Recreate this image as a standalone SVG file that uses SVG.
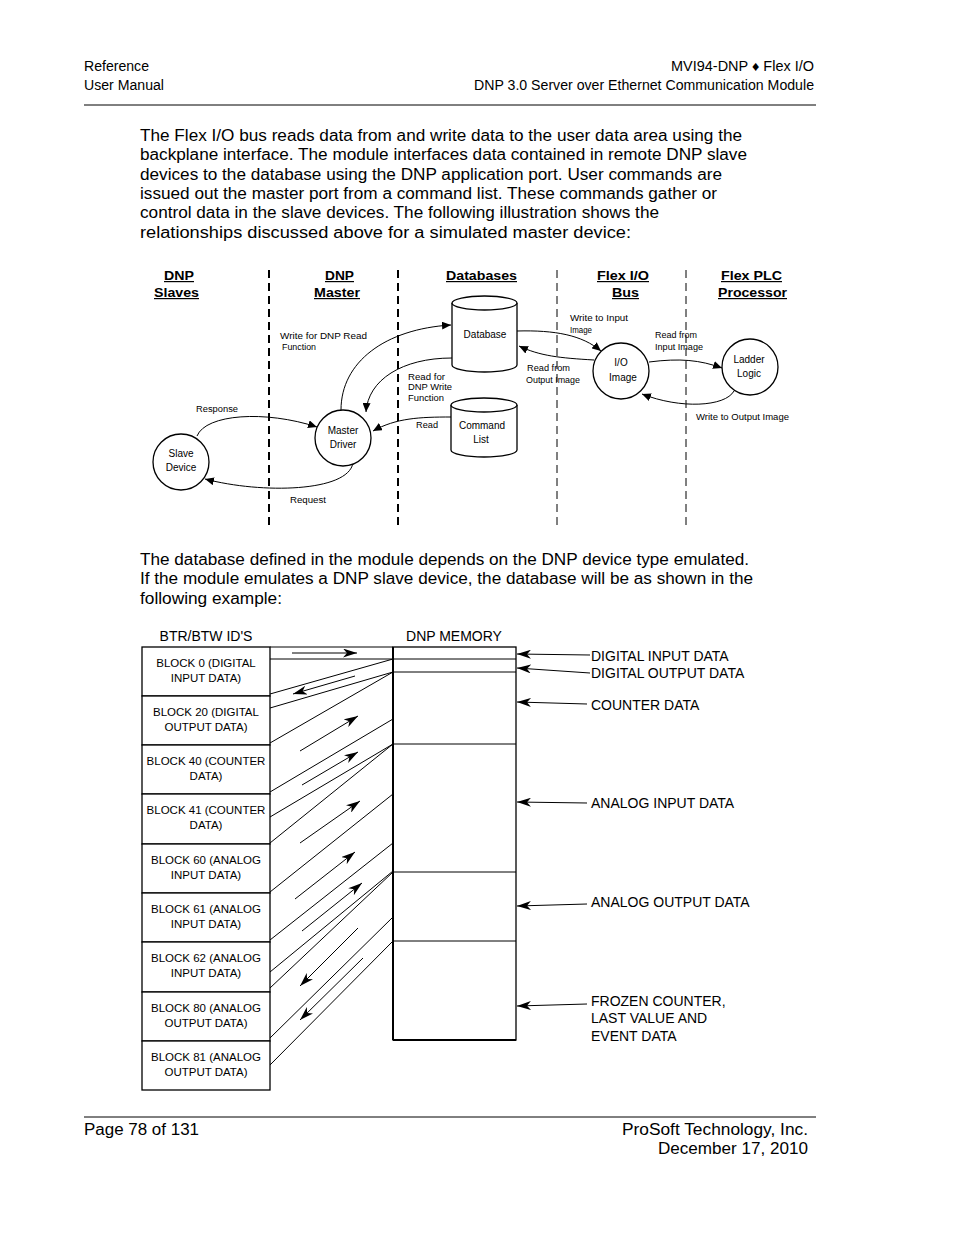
<svg xmlns="http://www.w3.org/2000/svg" width="954" height="1235" viewBox="0 0 954 1235">
<defs>
<style>
.hdr{font-family:"Liberation Sans Narrow","Liberation Sans",Arial,sans-serif;font-size:14px;fill:#000}
.body{font-family:"Liberation Sans",Arial,sans-serif;font-size:16px;fill:#000}
.ttl{font-family:"Liberation Sans",Arial,sans-serif;font-size:12px;font-weight:bold;text-decoration:underline;fill:#000}
.nd{font-family:"Liberation Sans",Arial,sans-serif;font-size:10px;fill:#000;text-anchor:middle}
.lbl{font-family:"Liberation Sans",Arial,sans-serif;font-size:8.5px;fill:#000}
.blk{font-family:"Liberation Sans",Arial,sans-serif;font-size:11.5px;fill:#000;text-anchor:middle}
.mem{font-family:"Liberation Sans",Arial,sans-serif;font-size:14px;fill:#000}
.ln{stroke:#000;stroke-width:1;fill:none}
.curve{stroke:#000;stroke-width:1;fill:none;marker-end:url(#tri)}
.arr{stroke:#000;stroke-width:1;fill:none;marker-end:url(#barb)}
.dash1{stroke:#000;stroke-width:2;stroke-dasharray:8 5}
.dash2{stroke:#000;stroke-width:1;stroke-dasharray:8 5}
.box{fill:#fff;stroke:#000;stroke-width:1.3}
</style>
<marker id="tri" markerUnits="userSpaceOnUse" markerWidth="9" markerHeight="8" refX="9" refY="4" orient="auto"><path d="M0,0 L9,4 L0,8 z" fill="#000"/></marker>
<marker id="barb" markerUnits="userSpaceOnUse" markerWidth="14" markerHeight="9" refX="14" refY="4.5" orient="auto"><path d="M0,0 L14,4.5 L0,9 L4,4.5 z" fill="#000"/></marker>
</defs>
<rect width="954" height="1235" fill="#fff"/>

<g id="page-header">
<text class="hdr" x="84" y="71" textLength="65" lengthAdjust="spacingAndGlyphs">Reference</text>
<text class="hdr" x="84" y="90" textLength="80" lengthAdjust="spacingAndGlyphs">User Manual</text>
<text class="hdr" x="671" y="71" textLength="143" lengthAdjust="spacingAndGlyphs">MVI94-DNP ♦ Flex I/O</text>
<text class="hdr" x="474" y="90" textLength="340" lengthAdjust="spacingAndGlyphs">DNP 3.0 Server over Ethernet Communication Module</text>
<line x1="84" y1="105" x2="816" y2="105" stroke="#000" stroke-width="1"/>
</g>

<g id="paragraph1">
<text class="body" x="140" y="141" textLength="602" lengthAdjust="spacingAndGlyphs">The Flex I/O bus reads data from and write data to the user data area using the</text>
<text class="body" x="140" y="160" textLength="607" lengthAdjust="spacingAndGlyphs">backplane interface. The module interfaces data contained in remote DNP slave</text>
<text class="body" x="140" y="180" textLength="582" lengthAdjust="spacingAndGlyphs">devices to the database using the DNP application port. User commands are</text>
<text class="body" x="140" y="199" textLength="577" lengthAdjust="spacingAndGlyphs">issued out the master port from a command list. These commands gather or</text>
<text class="body" x="140" y="218" textLength="519" lengthAdjust="spacingAndGlyphs">control data in the slave devices. The following illustration shows the</text>
<text class="body" x="140" y="238" textLength="491" lengthAdjust="spacingAndGlyphs">relationships discussed above for a simulated master device:</text>
</g>

<g id="top-diagram">
<g id="column-titles">
<text class="ttl" x="164" y="280" textLength="30" lengthAdjust="spacingAndGlyphs">DNP</text>
<text class="ttl" x="154" y="297" textLength="45" lengthAdjust="spacingAndGlyphs">Slaves</text>
<text class="ttl" x="325" y="280" textLength="29" lengthAdjust="spacingAndGlyphs">DNP</text>
<text class="ttl" x="314" y="297" textLength="46" lengthAdjust="spacingAndGlyphs">Master</text>
<text class="ttl" x="446" y="280" textLength="71" lengthAdjust="spacingAndGlyphs">Databases</text>
<text class="ttl" x="597" y="280" textLength="52" lengthAdjust="spacingAndGlyphs">Flex I/O</text>
<text class="ttl" x="612" y="297" textLength="27" lengthAdjust="spacingAndGlyphs">Bus</text>
<text class="ttl" x="721" y="280" textLength="61" lengthAdjust="spacingAndGlyphs">Flex PLC</text>
<text class="ttl" x="718" y="297" textLength="69" lengthAdjust="spacingAndGlyphs">Processor</text>
</g>
<g id="separators">
<line class="dash1" x1="269" y1="270" x2="269" y2="530"/>
<line class="dash1" x1="398" y1="270" x2="398" y2="530"/>
<line class="dash2" x1="557" y1="270" x2="557" y2="530"/>
<line class="dash2" x1="686" y1="270" x2="686" y2="530"/>
</g>

<g id="top-connectors">
<path class="curve" d="M341 410 C341 362 385 329 451 325"/>
<path class="curve" d="M452 358 C402 358 368 380 366 412"/>
<path class="curve" d="M451 417 C420 417 396 418 373 431"/>
<path class="curve" d="M197 436 C206 414 265 410 317 427"/>
<path class="curve" d="M353 463 C348 492 262 494 205 479"/>
<path class="curve" d="M517 331 C555 330 582 335 601 351"/>
<path class="curve" d="M594 360 C560 358 540 356 519 346"/>
<path class="curve" d="M649 362 C680 358 700 360 722 368"/>
<path class="curve" d="M734 391 C725 407 680 409 642 394"/>
<text class="lbl" x="280" y="339" textLength="87" lengthAdjust="spacingAndGlyphs">Write for DNP Read</text>
<text class="lbl" x="282" y="350" textLength="34" lengthAdjust="spacingAndGlyphs">Function</text>
<text class="lbl" x="196" y="412" textLength="42" lengthAdjust="spacingAndGlyphs">Response</text>
<text class="lbl" x="290" y="503" textLength="36" lengthAdjust="spacingAndGlyphs">Request</text>
<text class="lbl" x="408" y="380" textLength="37" lengthAdjust="spacingAndGlyphs">Read for</text>
<text class="lbl" x="408" y="390" textLength="44" lengthAdjust="spacingAndGlyphs">DNP Write</text>
<text class="lbl" x="408" y="401" textLength="36" lengthAdjust="spacingAndGlyphs">Function</text>
<text class="lbl" x="416" y="428" textLength="22" lengthAdjust="spacingAndGlyphs">Read</text>
<text class="lbl" x="570" y="321" textLength="58" lengthAdjust="spacingAndGlyphs">Write to Input</text>
<text class="lbl" x="570" y="333" textLength="22" lengthAdjust="spacingAndGlyphs">Image</text>
<text class="lbl" x="527" y="371" textLength="43" lengthAdjust="spacingAndGlyphs">Read from</text>
<text class="lbl" x="526" y="383" textLength="54" lengthAdjust="spacingAndGlyphs">Output Image</text>
<text class="lbl" x="655" y="338" textLength="42" lengthAdjust="spacingAndGlyphs">Read from</text>
<text class="lbl" x="655" y="350" textLength="48" lengthAdjust="spacingAndGlyphs">Input Image</text>
<text class="lbl" x="696" y="420" textLength="93" lengthAdjust="spacingAndGlyphs">Write to Output Image</text>
</g>

<g id="slave-device">
<circle class="box" cx="181" cy="462" r="28"/>
<text class="nd" x="181" y="457">Slave</text>
<text class="nd" x="181" y="471">Device</text>
</g>
<g id="master-driver">
<circle class="box" cx="343" cy="438" r="28"/>
<text class="nd" x="343" y="434">Master</text>
<text class="nd" x="343" y="448">Driver</text>
</g>
<g id="database">
<path class="box" d="M452 303 L452 365 A32.5 7 0 0 0 517 365 L517 303"/>
<ellipse class="box" cx="484.5" cy="303" rx="32.5" ry="7"/>
<text class="nd" x="485" y="338">Database</text>
</g>
<g id="command-list">
<path class="box" d="M451 405 L451 450 A33 7 0 0 0 517 450 L517 405"/>
<ellipse class="box" cx="484" cy="405" rx="33" ry="7"/>
<text class="nd" x="482" y="429">Command</text>
<text class="nd" x="481" y="443">List</text>
</g>
<g id="io-image">
<circle class="box" cx="621" cy="371" r="28"/>
<text class="nd" x="621" y="366">I/O</text>
<text class="nd" x="623" y="381">Image</text>
</g>
<g id="ladder-logic">
<circle class="box" cx="750" cy="367" r="28"/>
<text class="nd" x="749" y="363">Ladder</text>
<text class="nd" x="749" y="377">Logic</text>
</g>
</g>

<g id="paragraph2">
<text class="body" x="140" y="565" textLength="609" lengthAdjust="spacingAndGlyphs">The database defined in the module depends on the DNP device type emulated.</text>
<text class="body" x="140" y="584" textLength="613" lengthAdjust="spacingAndGlyphs">If the module emulates a DNP slave device, the database will be as shown in the</text>
<text class="body" x="140" y="604" textLength="142" lengthAdjust="spacingAndGlyphs">following example:</text>
</g>

<g id="bottom-diagram">
<text class="mem" x="206" y="641" text-anchor="middle" font-size="13.5">BTR/BTW ID'S</text>
<text class="mem" x="454" y="641" text-anchor="middle" font-size="13.5">DNP MEMORY</text>

<g id="block0"><rect class="box" x="142" y="647" width="128" height="49"/><text class="blk" x="206" y="667">BLOCK 0 (DIGITAL</text><text class="blk" x="206" y="682">INPUT DATA)</text></g>
<g id="block20"><rect class="box" x="142" y="696" width="128" height="49"/><text class="blk" x="206" y="716">BLOCK 20 (DIGITAL</text><text class="blk" x="206" y="731">OUTPUT DATA)</text></g>
<g id="block40"><rect class="box" x="142" y="745" width="128" height="49"/><text class="blk" x="206" y="765">BLOCK 40 (COUNTER</text><text class="blk" x="206" y="780">DATA)</text></g>
<g id="block41"><rect class="box" x="142" y="794" width="128" height="50"/><text class="blk" x="206" y="814">BLOCK 41 (COUNTER</text><text class="blk" x="206" y="829">DATA)</text></g>
<g id="block60"><rect class="box" x="142" y="844" width="128" height="49"/><text class="blk" x="206" y="864">BLOCK 60 (ANALOG</text><text class="blk" x="206" y="879">INPUT DATA)</text></g>
<g id="block61"><rect class="box" x="142" y="893" width="128" height="49"/><text class="blk" x="206" y="913">BLOCK 61 (ANALOG</text><text class="blk" x="206" y="928">INPUT DATA)</text></g>
<g id="block62"><rect class="box" x="142" y="942" width="128" height="50"/><text class="blk" x="206" y="962">BLOCK 62 (ANALOG</text><text class="blk" x="206" y="977">INPUT DATA)</text></g>
<g id="block80"><rect class="box" x="142" y="992" width="128" height="49"/><text class="blk" x="206" y="1012">BLOCK 80 (ANALOG</text><text class="blk" x="206" y="1027">OUTPUT DATA)</text></g>
<g id="block81"><rect class="box" x="142" y="1041" width="128" height="49"/><text class="blk" x="206" y="1061">BLOCK 81 (ANALOG</text><text class="blk" x="206" y="1076">OUTPUT DATA)</text></g>

<g id="dnp-memory">
<rect class="box" x="393" y="647" width="123" height="393"/>
<line x1="393" y1="647" x2="393" y2="1040" stroke="#000" stroke-width="2"/>
<line x1="393" y1="1040" x2="516" y2="1040" stroke="#000" stroke-width="2"/>
<line class="ln" x1="393" y1="672" x2="516" y2="672"/>
<line class="ln" x1="393" y1="744" x2="516" y2="744"/>
<line class="ln" x1="393" y1="872" x2="516" y2="872"/>
<line class="ln" x1="393" y1="941" x2="516" y2="941"/>
</g>

<g id="bottom-connectors">
<line class="ln" x1="270" y1="647" x2="393" y2="647"/>
<line class="ln" x1="270" y1="659" x2="516" y2="659"/>
<line class="ln" x1="393" y1="659" x2="270" y2="694"/>
<line class="ln" x1="393" y1="672" x2="270" y2="708"/>
<line class="ln" x1="393" y1="672" x2="270" y2="743"/>
<line class="ln" x1="393" y1="719" x2="270" y2="792"/>
<line class="ln" x1="393" y1="744" x2="270" y2="817"/>
<line class="ln" x1="393" y1="744" x2="270" y2="843"/>
<line class="ln" x1="393" y1="794" x2="270" y2="892"/>
<line class="ln" x1="393" y1="843" x2="270" y2="940"/>
<line class="ln" x1="393" y1="871" x2="270" y2="972"/>
<line class="ln" x1="393" y1="872" x2="270" y2="988"/>
<line class="ln" x1="393" y1="917" x2="270" y2="1038"/>
<line class="ln" x1="393" y1="941" x2="270" y2="1065"/>
<path class="arr" d="M292 653 L357 653"/>
<path class="arr" d="M355 676 L293 694"/>
<path class="arr" d="M300 751 L358 716"/>
<path class="arr" d="M302 785 L358 752"/>
<path class="arr" d="M300 843 L360 801"/>
<path class="arr" d="M295 899 L355 852"/>
<path class="arr" d="M302 931 L362 883"/>
<path class="arr" d="M358 928 L300 986"/>
<path class="arr" d="M363 958 L300 1020"/>
<path class="arr" d="M590 655 L517 654"/>
<path class="arr" d="M590 673 L517 668"/>
<path class="arr" d="M587 704 L517 702"/>
<path class="arr" d="M587 803 L517 802"/>
<path class="arr" d="M587 904 L517 906"/>
<path class="arr" d="M587 1004 L517 1006"/>
</g>

<g id="memory-labels">
<text class="mem" x="591" y="661">DIGITAL INPUT DATA</text>
<text class="mem" x="591" y="678">DIGITAL OUTPUT DATA</text>
<text class="mem" x="591" y="710">COUNTER DATA</text>
<text class="mem" x="591" y="808">ANALOG INPUT DATA</text>
<text class="mem" x="591" y="907">ANALOG OUTPUT DATA</text>
<text class="mem" x="591" y="1006">FROZEN COUNTER,</text>
<text class="mem" x="591" y="1023">LAST VALUE AND</text>
<text class="mem" x="591" y="1041">EVENT DATA</text>
</g>
</g>

<g id="page-footer">
<line x1="84" y1="1117" x2="816" y2="1117" stroke="#000" stroke-width="1"/>
<text class="body" x="84" y="1135" textLength="115" lengthAdjust="spacingAndGlyphs">Page 78 of 131</text>
<text class="body" x="622" y="1135" textLength="186" lengthAdjust="spacingAndGlyphs">ProSoft Technology, Inc.</text>
<text class="body" x="658" y="1154" textLength="150" lengthAdjust="spacingAndGlyphs">December 17, 2010</text>
</g>
</svg>
